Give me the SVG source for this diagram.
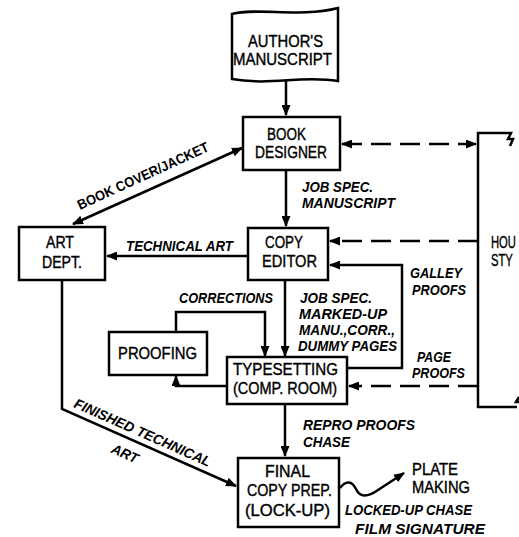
<svg xmlns="http://www.w3.org/2000/svg" width="519" height="537" viewBox="0 0 519 537">
<style>
.box{fill:#fff;stroke:#000;stroke-width:2.5}
.ln{fill:none;stroke:#000;stroke-width:2.5}
.dash{fill:none;stroke:#000;stroke-width:2.5;stroke-dasharray:20 9}
.bt{font-family:"Liberation Sans",Arial,sans-serif;font-size:17px;fill:#000;stroke:#000;stroke-width:0.4}
.lb{font-family:"Liberation Sans",Arial,sans-serif;font-size:14px;font-weight:bold;font-style:italic;fill:#000}
.lu{font-family:"Liberation Sans",Arial,sans-serif;font-size:14px;font-weight:bold;fill:#000}
</style>
<defs>
<marker id="ah" markerUnits="userSpaceOnUse" markerWidth="11" markerHeight="9" refX="10" refY="4.5" orient="auto-start-reverse">
<path d="M0,0 L11,4.5 L0,9 z" fill="#000"/>
</marker>
</defs>

<g id="connectors">
<path class="ln" d="M286,80 V115" marker-end="url(#ah)"/>
<path class="dash" d="M342,144 H476" marker-start="url(#ah)" marker-end="url(#ah)"/>
<path class="ln" d="M286,170 V226" marker-end="url(#ah)"/>
<path class="dash" d="M478,241 H330" marker-end="url(#ah)"/>
<path class="ln" d="M248,256 H107" marker-end="url(#ah)"/>
<path class="ln" d="M242,148 L73,224" marker-start="url(#ah)" marker-end="url(#ah)"/>
<path class="ln" d="M285,280 V356" marker-end="url(#ah)"/>
<path class="ln" d="M176,332 V312 H265 V356" marker-end="url(#ah)"/>
<path class="ln" d="M227,386 H176 V376" marker-end="url(#ah)"/>
<path class="ln" d="M348,368 H402 V265 H330" marker-end="url(#ah)"/>
<path class="dash" d="M478,386 H349" marker-end="url(#ah)"/>
<path class="ln" d="M285,404 V456" marker-end="url(#ah)"/>
<path class="ln" d="M62,280 V409 L236,486" marker-end="url(#ah)"/>
<path class="ln" d="M340,488 C346,480 352,481 356,489 C360,498 368,497 378,490 L404,473" marker-end="url(#ah)"/>
</g>

<g id="authors-manuscript">
<path class="box" d="M232,14 C258,7 300,18 338,8 V81 C300,75 272,86 232,79 Z"/>
<text class="bt" x="248" y="47" textLength="75" lengthAdjust="spacingAndGlyphs">AUTHOR'S</text>
<text class="bt" x="233" y="65" textLength="99" lengthAdjust="spacingAndGlyphs">MANUSCRIPT</text>
</g>

<g id="book-designer">
<rect class="box" x="243" y="117" width="97" height="53"/>
<text class="bt" x="267" y="140" textLength="39" lengthAdjust="spacingAndGlyphs">BOOK</text>
<text class="bt" x="255" y="158" textLength="72" lengthAdjust="spacingAndGlyphs">DESIGNER</text>
</g>

<g id="house-style">
<path class="ln" d="M507,133 H478 V407 H514"/>
<path class="ln" stroke-width="1.8" d="M507,133 L511,133 L508,139 L513,139 L510,146"/>
<path class="ln" stroke-width="1.8" d="M514,407 L517,407 M519,397 L516,402 L519,402"/>
<text class="bt" transform="translate(491,248) scale(0.66,1)" x="0" y="0">HOU</text>
<text class="bt" transform="translate(491,266) scale(0.66,1)" x="0" y="0">STY</text>
</g>

<g id="copy-editor">
<rect class="box" x="248" y="228" width="80" height="52"/>
<text class="bt" x="265" y="248" textLength="38" lengthAdjust="spacingAndGlyphs">COPY</text>
<text class="bt" x="262" y="267" textLength="55" lengthAdjust="spacingAndGlyphs">EDITOR</text>
</g>

<g id="art-dept">
<rect class="box" x="19" y="227" width="86" height="53"/>
<text class="bt" x="46" y="248" textLength="28" lengthAdjust="spacingAndGlyphs">ART</text>
<text class="bt" x="42" y="268" textLength="40" lengthAdjust="spacingAndGlyphs">DEPT.</text>
</g>

<g id="proofing">
<rect class="box" x="109" y="332" width="98" height="43"/>
<text class="bt" x="118" y="359" textLength="79" lengthAdjust="spacingAndGlyphs">PROOFING</text>
</g>

<g id="typesetting">
<rect class="box" x="227" y="357" width="120" height="47"/>
<text class="bt" x="233" y="375" textLength="105" lengthAdjust="spacingAndGlyphs">TYPESETTING</text>
<text class="bt" x="233" y="394" textLength="104" lengthAdjust="spacingAndGlyphs">(COMP. ROOM)</text>
</g>

<g id="final-copy-prep">
<rect class="box" x="238" y="458" width="101" height="69"/>
<text class="bt" x="265" y="477" textLength="45" lengthAdjust="spacingAndGlyphs">FINAL</text>
<text class="bt" x="247" y="496" textLength="85" lengthAdjust="spacingAndGlyphs">COPY PREP.</text>
<text class="bt" x="245" y="516" textLength="85" lengthAdjust="spacingAndGlyphs">(LOCK-UP)</text>
</g>

<g id="plate-making">
<text class="bt" x="412" y="475" textLength="46" lengthAdjust="spacingAndGlyphs">PLATE</text>
<text class="bt" x="412" y="493" textLength="58" lengthAdjust="spacingAndGlyphs">MAKING</text>
</g>

<g id="labels">
<text class="lb" x="302" y="192" textLength="71" lengthAdjust="spacingAndGlyphs">JOB SPEC.</text>
<text class="lb" x="302" y="208" textLength="93" lengthAdjust="spacingAndGlyphs">MANUSCRIPT</text>
<text class="lb" x="126" y="251" textLength="107" lengthAdjust="spacingAndGlyphs">TECHNICAL ART</text>
<text class="lb" x="410" y="278" textLength="52" lengthAdjust="spacingAndGlyphs">GALLEY</text>
<text class="lb" x="412" y="295" textLength="54" lengthAdjust="spacingAndGlyphs">PROOFS</text>
<text class="lb" x="179" y="303" textLength="94" lengthAdjust="spacingAndGlyphs">CORRECTIONS</text>
<text class="lb" x="300" y="303" textLength="72" lengthAdjust="spacingAndGlyphs">JOB SPEC.</text>
<text class="lb" x="299" y="319" textLength="88" lengthAdjust="spacingAndGlyphs">MARKED-UP</text>
<text class="lb" x="299" y="335" textLength="96" lengthAdjust="spacingAndGlyphs">MANU.,CORR.,</text>
<text class="lb" x="298" y="351" textLength="99" lengthAdjust="spacingAndGlyphs">DUMMY PAGES</text>
<text class="lb" x="417" y="362" textLength="34" lengthAdjust="spacingAndGlyphs">PAGE</text>
<text class="lb" x="412" y="378" textLength="53" lengthAdjust="spacingAndGlyphs">PROOFS</text>
<text class="lb" x="303" y="430" textLength="112" lengthAdjust="spacingAndGlyphs">REPRO PROOFS</text>
<text class="lb" x="303" y="447" textLength="47" lengthAdjust="spacingAndGlyphs">CHASE</text>
<text class="lb" x="345" y="515" textLength="127" lengthAdjust="spacingAndGlyphs">LOCKED-UP CHASE</text>
<text class="lb" x="355" y="534" textLength="130" lengthAdjust="spacingAndGlyphs">FILM SIGNATURE</text>
<text class="lu" transform="translate(80,210) rotate(-24.6)" x="0" y="0" textLength="143" lengthAdjust="spacingAndGlyphs">BOOK COVER/JACKET</text>
<text class="lb" transform="translate(73,407) rotate(23.9)" x="0" y="0" textLength="148" lengthAdjust="spacingAndGlyphs">FINISHED TECHNICAL</text>
<text class="lb" transform="translate(123,458) rotate(23.9)" x="0" y="0" text-anchor="middle" textLength="28" lengthAdjust="spacingAndGlyphs">ART</text>
</g>
</svg>
